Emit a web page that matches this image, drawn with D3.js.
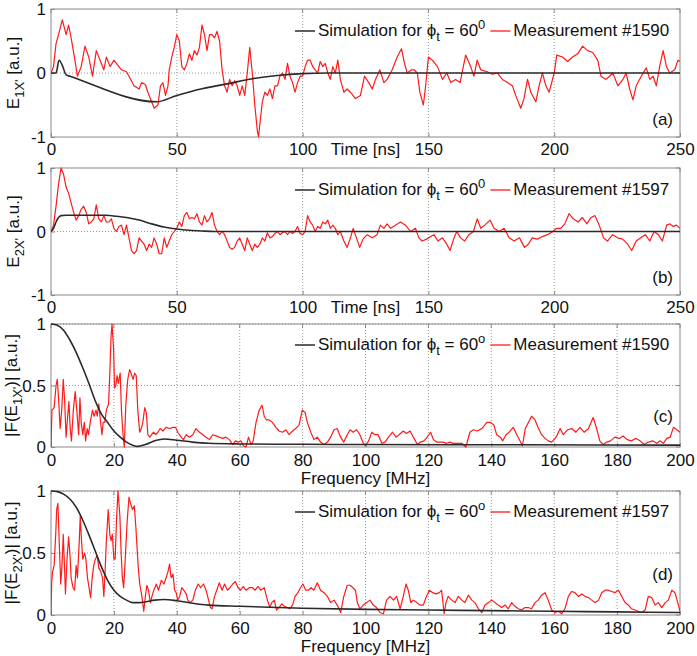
<!DOCTYPE html>
<html><head><meta charset="utf-8">
<script src="https://cdn.jsdelivr.net/npm/d3@7"></script>
<style>html,body{margin:0;padding:0;background:#fff;} svg{display:block;}</style>
</head><body>
<script>
const timeTicks = [0,50,100,150,200,250];
const freqTicks = [0,20,40,60,80,100,120,140,160,180,200];
const ampTicks = [-1,0,1];
const specTicks = [0,0.5,1];

const simA = [[0,0],[2,0],[3.2,0.2],[4.5,0.12],[6,-0.03],[7.5,-0.05],[42,-0.45],[50,-0.35],[60,-0.245],[70,-0.17],[80,-0.09],[90,-0.04],[100,-0.01],[110,0],[250,0]];
const measA = [[0,0],[1,0.1],[2,0.46],[3,0.6],[4.5,0.83],[6,0.6],[7,0.75],[8,0.55],[9.5,0.2],[10.5,-0.05],[12,0.1],[13.5,0.42],[15,0.25],[16.5,-0.05],[18,0.35],[19.5,0.2],[21,0.05],[22,0.25],[23.5,0.1],[25,0.2],[26,0.15],[27,0.1],[28,0.05],[30,0.02],[31,-0.05],[33,-0.2],[35,-0.25],[36,-0.15],[37.5,-0.18],[38.5,-0.3],[40,-0.45],[41,-0.55],[42.5,-0.5],[43.5,-0.2],[44.5,-0.15],[45.5,-0.35],[46.5,-0.2],[47,0.05],[48,0.25],[49,0.4],[50,0.6],[51,0.5],[52,0.1],[53,0.05],[54,0.15],[55,0.3],[56,0.2],[57,0.35],[58,0.28],[59,0.4],[60,0.75],[61,0.6],[62,0.35],[63,0.6],[64,0.6],[65,0.55],[66,0.65],[67,0.5],[68,0.05],[69,-0.2],[70,-0.3],[71,-0.1],[72,-0.2],[73,-0.12],[74,-0.2],[75,-0.35],[76,-0.2],[77,-0.35],[78,0],[79,0.4],[80,0],[81,-0.5],[82,-0.9],[82.5,-1],[83,-0.8],[84,-0.45],[85,-0.3],[86,-0.35],[87,-0.25],[88,-0.4],[89,-0.2],[90,-0.2],[91,-0.05],[92,0],[93,-0.1],[94,0.15],[95,-0.05],[96,-0.15],[97,-0.3],[98,-0.15],[99,-0.05],[100,-0.05],[101,0.1],[102,0.2],[103,0.2],[104,0.1],[105,0.05],[106,0],[107,0.18],[108,0.1],[109,0.15],[110,0],[111,-0.1],[112,0.1],[113,0],[114,0.2],[115,-0.1],[116.4,-0.3],[117.7,-0.25],[119,-0.3],[121,-0.4],[123,-0.35],[124.6,-0.05],[126.3,-0.15],[127.7,-0.25],[129,-0.1],[130.7,0.05],[132.3,-0.15],[133.6,-0.1],[135.6,0.05],[137.6,0.25],[139.3,0.38],[140.5,0.15],[141.6,0],[143.3,0.05],[144.3,0.05],[145.6,0],[146.6,-0.3],[148,-0.5],[148.9,-0.2],[150,0.25],[151.6,0.2],[153.6,0.1],[155.6,-0.1],[157.3,0],[158.9,-0.15],[160.8,-0.1],[162.6,-0.15],[164.8,0.28],[166.8,0.1],[168.1,-0.05],[169.4,0.2],[170.8,0.05],[173.4,0.02],[175.4,-0.02],[177.4,0],[179.4,-0.1],[181.4,-0.15],[183.4,-0.2],[184.7,-0.35],[186.7,-0.55],[188,-0.4],[189.4,-0.1],[190.7,-0.3],[192.7,-0.45],[194,-0.2],[195.3,0],[196.7,-0.2],[198,-0.3],[200,0],[201,0.28],[203.3,0.25],[205.3,0.18],[207.3,0.25],[209.3,0.3],[211.3,0.42],[213.3,0.35],[215.3,0.32],[217.3,0.2],[218.6,-0.05],[220.6,-0.1],[222,-0.05],[223.3,0],[225.3,-0.2],[227.3,-0.1],[228.6,0],[230,-0.25],[231.3,-0.42],[232.6,-0.2],[234.6,-0.05],[236.6,0.08],[238,-0.1],[239.3,-0.05],[240.6,-0.2],[241.9,0.1],[243.3,0.35],[244.6,0.1],[245.9,0],[247.9,0.05],[249.2,0.2],[250,0.18]];

const simB = [[0,0],[1,0.05],[2,0.15],[3,0.22],[4,0.25],[6,0.255],[22,0.255],[26,0.24],[30,0.22],[35,0.18],[40,0.12],[45,0.07],[50,0.04],[55,0.02],[60,0.008],[65,0],[250,0]];
const measB = [[0,0],[1,0.1],[2,0.4],[3,0.75],[4,1],[5,0.9],[6,0.7],[7,0.6],[8,0.45],[9,0.3],[10,0.18],[11,0.25],[12,0.35],[13,0.4],[14,0.3],[15,0.12],[16,0.15],[17,0.2],[18,0.42],[19,0.2],[20,0.15],[21,0.25],[22,0.15],[23,0.15],[24,0.2],[25,0.05],[26,0],[27,0.08],[28,0.1],[29,-0.05],[30,0.1],[31,-0.1],[32,-0.3],[33,-0.35],[34,-0.3],[35,-0.1],[36,-0.15],[37,-0.2],[38,-0.3],[39,-0.2],[40,-0.25],[41,-0.1],[42,-0.2],[43,-0.35],[44,-0.35],[45,-0.1],[46,-0.25],[47,-0.15],[48,-0.05],[49,0],[50,0.05],[51,0.15],[52,0.08],[53,0.25],[54,0.3],[55,0.2],[56,0.22],[57,0.2],[58,0.28],[59,0.15],[60,0.1],[61,0.25],[62,0.15],[63,0.2],[64,0.3],[65,0.1],[66,0],[67,-0.05],[68,0],[69,-0.05],[70,-0.15],[71,-0.25],[72,-0.28],[73,-0.25],[74,-0.15],[75,-0.1],[76,-0.2],[77,-0.3],[78,-0.1],[79,-0.2],[80,-0.3],[81,-0.2],[82,-0.25],[83,-0.2],[84,-0.1],[85,-0.15],[86,-0.02],[87,-0.1],[88,-0.08],[89,-0.03],[90,0],[91,-0.05],[92,-0.02],[93,0],[94,-0.05],[95,0],[96,-0.03],[97,0],[98,0.08],[99,-0.03],[100,-0.05],[101,0],[102,0.25],[103,0.15],[104,0.1],[105,0],[106,0.08],[107,0.05],[108,0.15],[109,0.12],[110,0.18],[111,0.05],[112,0.1],[113,0.05],[114,-0.05],[115,0],[116.4,-0.15],[117.7,-0.25],[119,-0.1],[120.1,0.05],[121.4,-0.1],[122.7,-0.25],[124,-0.12],[125.7,-0.05],[127.7,-0.1],[129.6,-0.05],[130.9,0.1],[132.3,0.05],[133.6,0.12],[135,0.05],[136.9,0.1],[138.9,0.15],[140.9,0.1],[142.9,0],[144.9,0.05],[146.2,-0.1],[147.5,-0.15],[149.3,-0.12],[150.9,-0.08],[152.2,-0.05],[153.8,-0.15],[155.6,-0.1],[157.3,-0.2],[158.6,-0.3],[160.2,-0.1],[161.3,0],[162.8,-0.1],[164.4,-0.15],[166.1,-0.05],[167.9,0],[169.4,0.2],[170.8,0.05],[172.4,0.1],[174.5,0.18],[176.1,0.05],[178.1,0],[180.1,0.05],[182.1,-0.1],[184.1,-0.15],[186.2,-0.1],[188.2,-0.25],[189.7,-0.2],[191.3,-0.1],[193.3,-0.12],[195.3,-0.08],[197.3,-0.05],[199.5,0],[201,0.05],[202.6,0.05],[204.2,0.12],[205.9,0.28],[207.6,0.2],[209.5,0.15],[211.2,0.22],[213,0.12],[214.6,0.22],[216.2,0.25],[217.9,0.1],[219.6,-0.1],[221.2,-0.15],[223.2,-0.05],[225.2,-0.1],[227.2,-0.12],[229.2,-0.2],[230.8,-0.3],[232.6,-0.15],[234.4,-0.1],[236.2,-0.05],[238,-0.15],[239.7,0],[241.4,-0.05],[243,-0.15],[244.7,0.1],[246,0.12],[247.3,0.08],[248.6,0.1],[250,0.05]];

const simC = [[0,1],[2,0.99],[4,0.95],[6,0.87],[8,0.77],[10,0.65],[12,0.52],[14,0.38],[16,0.27],[18,0.2],[20,0.13],[22,0.08],[24,0.04],[26,0.015],[27.5,0.005],[30,0.02],[33,0.05],[36,0.065],[40,0.055],[45,0.04],[50,0.03],[60,0.025],[80,0.022],[100,0.02],[150,0.018],[200,0.015]];
const measC = [[0,0],[0.3,0.3],[1,0.32],[1.6,0.5],[2,0.55],[2.4,0.4],[2.9,0.15],[3.4,0.3],[3.9,0.55],[4.3,0.4],[4.8,0.08],[5.3,0.25],[5.7,0.37],[6.1,0.15],[6.5,0.05],[7.1,0.3],[7.7,0.45],[8.2,0.3],[8.8,0.1],[9.2,0.4],[9.6,0.2],[10.1,0.1],[10.6,0.2],[11,0.05],[11.5,0.15],[11.9,0.1],[12.6,0.22],[13.2,0.3],[13.7,0.25],[14.3,0.3],[14.7,0.25],[15.2,0.35],[15.7,0.22],[16.2,0.1],[16.6,0.2],[17.1,0.2],[17.6,0.3],[18.3,0.35],[18.7,0.6],[19.1,0.9],[19.4,1],[19.9,0.8],[20.2,0.48],[20.6,0.5],[21,0.58],[21.4,0.52],[22,0.6],[22.4,0.3],[22.9,0.1],[23.3,0],[23.8,0.35],[24.4,0.55],[25,0.63],[25.7,0.58],[26.1,0.55],[26.6,0.6],[27.1,0.58],[27.6,0.3],[28.2,0.12],[28.7,0.15],[29.2,0.2],[29.8,0.32],[30.3,0.28],[30.8,0.1],[31.4,0.08],[32,0.1],[32.6,0.12],[33.3,0.1],[34,0.12],[34.7,0.15],[35.6,0.13],[36.6,0.16],[37.7,0.15],[38.8,0.16],[39.6,0.16],[40.3,0.12],[41.4,0.08],[42.1,0.06],[43,0.1],[44,0.08],[45.1,0.1],[46.1,0.15],[47.2,0.12],[48.3,0.1],[49.3,0.08],[50.4,0.06],[51.4,0.1],[52.5,0.09],[53.5,0.08],[54.6,0.07],[55.6,0.08],[56.7,0.06],[57.8,0.02],[58.6,0.05],[59.5,0.04],[60.4,0.05],[61.2,0.01],[62,0],[62.8,0.08],[63.6,0.02],[64.3,0.05],[65.2,0.2],[66.2,0.3],[67.1,0.34],[67.8,0.25],[68.5,0.22],[69.4,0.22],[70.4,0.2],[71.5,0.16],[72.5,0.13],[73.6,0.12],[74.7,0.14],[75.7,0.1],[76.8,0.13],[77.8,0.15],[78.9,0.18],[79.9,0.3],[80.8,0.28],[81.5,0.2],[82.6,0.12],[83.6,0.06],[84.7,0.08],[85.7,0.04],[86.8,0.02],[87.9,0.04],[88.9,0.08],[90,0.14],[91,0.15],[92.1,0.08],[93.1,0.04],[94.2,0.1],[95.1,0.14],[96.1,0.12],[97.2,0.14],[98.2,0.1],[99.3,0.03],[100,0.01],[101,0.05],[102,0.12],[103,0.1],[104,0.1],[105.2,0.03],[106.2,0.04],[107.3,0.08],[108.6,0.12],[109.7,0.08],[110.7,0.1],[112,0.13],[113,0.11],[114.2,0.13],[115.2,0.08],[116.5,0.02],[117.5,0.04],[118.6,0.05],[119.6,0.08],[120.7,0.12],[121.6,0.06],[122.6,0.04],[123.7,0.04],[124.7,0.04],[125.8,0.03],[126.8,0.04],[127.9,0.03],[129,0.03],[130.6,0.03],[131.9,0],[133.2,0.12],[134.3,0.14],[135.6,0.13],[137,0.15],[138.6,0.2],[139.7,0.2],[140.8,0.18],[141.7,0.1],[142.9,0.08],[143.6,0.05],[144.7,0.1],[145.7,0.12],[147,0.16],[148.1,0.1],[149.1,0.05],[149.9,0.01],[150.8,0.15],[151.8,0.2],[152.8,0.25],[153.9,0.22],[155,0.15],[156,0.1],[157.1,0.07],[158.1,0.05],[159.2,0.04],[160.6,0.08],[161.9,0.15],[162.9,0.1],[164.2,0.14],[165.6,0.15],[166.9,0.12],[168.2,0.16],[169.5,0.12],[170.9,0.15],[172.4,0.24],[173.5,0.15],[174.5,0.05],[175.6,0.02],[176.7,0.04],[177.9,0.05],[179.3,0.08],[180.7,0.07],[181.9,0.09],[183.2,0.06],[184.6,0.05],[186,0.07],[187.3,0.05],[188.6,0.02],[190,0.04],[191.3,0.05],[192.6,0.03],[193.7,0.05],[194.7,0.03],[195.8,0.07],[196.9,0.08],[197.9,0.16],[199,0.14],[200,0.12]];

const simD = [[0,1],[2,0.995],[4,0.975],[6,0.935],[8,0.87],[10,0.77],[12,0.65],[14,0.52],[16,0.39],[18,0.28],[20,0.2],[22,0.15],[24,0.12],[26,0.1],[28,0.1],[30,0.105],[33,0.12],[36,0.125],[40,0.115],[45,0.095],[50,0.08],[60,0.07],[80,0.055],[100,0.045],[120,0.04],[140,0.035],[160,0.03],[180,0.025],[200,0.02]];
const measD = [[0,0],[0.2,0.25],[0.5,0.35],[1,0.4],[1.5,0.65],[1.8,0.85],[2.2,0.9],[2.6,0.6],[3.1,0.25],[3.5,0.4],[3.9,0.65],[4.2,0.45],[4.6,0.17],[5.1,0.45],[5.6,0.63],[6,0.5],[6.4,0.3],[7,0.22],[7.5,0.2],[8,0.4],[8.4,0.3],[9,0.6],[9.3,0.8],[9.7,0.6],[10.1,0.45],[10.7,0.5],[11.1,0.45],[11.6,0.3],[12.1,0.22],[12.6,0.14],[13.1,0.3],[13.6,0.4],[14.1,0.45],[14.7,0.48],[15.2,0.38],[15.8,0.35],[16.4,0.3],[16.8,0.15],[17.2,0.35],[17.6,0.6],[18.2,0.85],[18.7,0.65],[19.1,0.6],[19.5,0.65],[20,0.45],[20.4,0.45],[20.8,0.75],[21.3,1],[21.9,0.8],[22.3,0.5],[22.7,0.3],[23.1,0.22],[23.5,0.4],[24.2,0.75],[24.8,0.95],[25.3,0.9],[25.9,0.85],[26.5,0.88],[27,0.7],[27.7,0.4],[28.2,0.25],[28.9,0.15],[29.5,0.03],[30,0.15],[30.5,0.24],[31,0.2],[31.6,0.1],[32.1,0.15],[32.7,0.2],[33.5,0.25],[34.2,0.2],[35.1,0.28],[35.9,0.25],[36.6,0.3],[37.2,0.35],[37.7,0.41],[38.2,0.3],[38.8,0.33],[39.3,0.2],[39.8,0.18],[40.3,0.12],[40.9,0.15],[41.6,0.22],[42.2,0.2],[43,0.17],[43.5,0.12],[44.2,0.1],[45.1,0.12],[45.9,0.2],[46.8,0.25],[47.6,0.22],[48.5,0.25],[49.3,0.2],[50.1,0.12],[50.7,0.06],[51.2,0.05],[52,0.15],[52.7,0.2],[53.5,0.26],[54.4,0.2],[55.2,0.25],[56.1,0.2],[56.9,0.22],[57.8,0.25],[58.6,0.27],[59.5,0.22],[60.3,0.2],[61.1,0.23],[62,0.2],[63,0.22],[64.1,0.22],[64.9,0.2],[65.8,0.23],[66.7,0.2],[67.8,0.22],[68.8,0.12],[69.6,0.06],[70.2,0.1],[71,0.12],[71.7,0.04],[72.5,0.06],[73.4,0.09],[74.2,0.07],[75.1,0.06],[75.9,0.05],[76.8,0.08],[77.6,0.15],[78.5,0.18],[79.3,0.22],[80.1,0.25],[81,0.2],[81.8,0.2],[82.7,0.22],[83.6,0.2],[84.7,0.26],[85.7,0.2],[86.8,0.18],[87.9,0.15],[88.9,0.1],[90,0.12],[91,0.08],[92.1,0.02],[93.1,0.15],[94.2,0.24],[95.1,0.24],[96,0.22],[96.8,0.2],[97.4,0.1],[98.2,0.05],[99.3,0.08],[100.4,0.1],[101.4,0.12],[102.5,0.08],[103.5,0.06],[104.6,0.02],[105.7,0.01],[106.7,0.12],[107.8,0.15],[108.9,0.12],[109.9,0.15],[111,0.05],[112,0.15],[112.9,0.25],[113.6,0.2],[114.4,0.1],[115.2,0.12],[116.3,0.1],[117.3,0.08],[118.4,0.08],[119.2,0.14],[120.3,0.2],[121.4,0.18],[122.4,0.17],[123.5,0.18],[124.2,0.2],[125,0.01],[125.6,0.1],[126.3,0.15],[127.4,0.12],[128.5,0.1],[129.5,0.15],[130.6,0.12],[131.6,0.1],[132.7,0.16],[133.8,0.12],[134.8,0.1],[135.9,0.05],[137,0.02],[138,0.08],[139.1,0.1],[140.1,0.12],[141.2,0.1],[142.2,0.08],[143.3,0.06],[144.4,0.08],[145.4,0.05],[146.5,0.1],[147.5,0.07],[148.6,0.05],[149.6,0.04],[150.7,0.06],[151.7,0.06],[152.8,0.05],[153.9,0.1],[154.9,0.12],[156,0.16],[157.1,0.18],[158.1,0.12],[159.2,0.04],[160.3,0.02],[161.3,0.03],[162.4,0.01],[163.4,0.05],[164.5,0.15],[165.6,0.19],[166.6,0.18],[167.7,0.15],[168.8,0.17],[169.8,0.15],[170.9,0.14],[171.9,0.12],[173,0.1],[174.1,0.12],[175.1,0.18],[176.2,0.2],[177.2,0.2],[178.3,0.19],[179.3,0.18],[180.4,0.2],[181.5,0.15],[182.5,0.1],[183.6,0.08],[184.6,0.05],[185.7,0.04],[186.7,0.03],[187.8,0.02],[188.9,0.04],[189.9,0.15],[191,0.14],[192.1,0.08],[193.1,0.1],[194.2,0.06],[195.3,0.1],[196.3,0.12],[197.4,0.2],[198.4,0.18],[199.5,0.08],[200,0.03]];

const panels = [
  {top:9, bottom:137, xDom:[0,250], yDom:[-1,1], xT:timeTicks, yT:ampTicks, yGrid:[0], sim:simA, meas:measA, meas_label:"Measurement #1590", deg:"0", tag:"(a)", kind:"time", ylab:["E","1X'"," [a.u.]"], ylabX:19, legY:31, tagY:125},
  {top:168, bottom:295, xDom:[0,250], yDom:[-1,1], xT:timeTicks, yT:ampTicks, yGrid:[0], sim:simB, meas:measB, meas_label:"Measurement #1597", deg:"0", tag:"(b)", kind:"time", ylab:["E","2X'"," [a.u.]"], ylabX:19, legY:190, tagY:283},
  {top:324, bottom:447, xDom:[0,200], yDom:[0,1], xT:freqTicks, yT:specTicks, yGrid:[0.5,1], sim:simC, meas:measC, meas_label:"Measurement #1590", deg:"o", tag:"(c)", kind:"freq", ylab:["|F(E","1X'",")| [a.u.]"], ylabX:17, legY:345, tagY:422},
  {top:491, bottom:615, xDom:[0,200], yDom:[0,1], xT:freqTicks, yT:specTicks, yGrid:[0.5,1], sim:simD, meas:measD, meas_label:"Measurement #1597", deg:"o", tag:"(d)", kind:"freq", ylab:["|F(E","2X'",")| [a.u.]"], ylabX:17, legY:512, tagY:580}
];

const W = 697, H = 656, L = 51, R = 680;
const FONT = "'Liberation Sans', Arial, Helvetica, sans-serif";
const svg = d3.select("body").append("svg").attr("width", W).attr("height", H)
  .style("font-family", FONT);
svg.append("rect").attr("width", W).attr("height", H).attr("fill", "#fff");

const boxColor = "#8a8a8a", gridColor = "#9a9a9a";

panels.forEach(p => {
  const x = d3.scaleLinear().domain(p.xDom).range([L, R]);
  const y = d3.scaleLinear().domain(p.yDom).range([p.bottom, p.top]);
  const g = svg.append("g");

  // grid
  const inner = p.xT.slice(1, -1);
  g.selectAll(".vg").data(inner).join("line")
    .attr("x1", d => x(d)).attr("x2", d => x(d)).attr("y1", p.top).attr("y2", p.bottom)
    .attr("stroke", gridColor).attr("stroke-width", 1).attr("stroke-dasharray", "1,2");
  g.selectAll(".hg").data(p.yGrid).join("line")
    .attr("x1", L).attr("x2", R).attr("y1", d => y(d)).attr("y2", d => y(d))
    .attr("stroke", gridColor).attr("stroke-width", 1).attr("stroke-dasharray", "1,2");

  // axes via d3
  const xAxis = d3.axisBottom(x).tickValues(p.xT).tickSize(-4).tickPadding(6).tickFormat(d3.format("d"));
  const ax = g.append("g").attr("transform", `translate(0,${p.bottom})`).call(xAxis);
  const yAxis = d3.axisLeft(y).tickValues(p.yT).tickSize(-4).tickPadding(5).tickFormat(d => d === 0.5 ? "0.5" : String(d));
  const ay = g.append("g").attr("transform", `translate(${L},0)`).call(yAxis);
  [ax, ay].forEach(a => {
    a.select(".domain").remove();
    a.selectAll(".tick line").attr("stroke", boxColor);
    a.selectAll("text").attr("fill", "#111").style("font-size", "17px").style("font-family", FONT);
  });
  ax.selectAll("text").attr("dy", null).attr("y", p.kind === "time" ? 18 : 19).attr("dominant-baseline", "auto");
  ay.selectAll("text").attr("dy", "0.35em");

  // top/right ticks
  g.selectAll(".tt").data(p.xT).join("line")
    .attr("x1", d => x(d)).attr("x2", d => x(d)).attr("y1", p.top).attr("y2", p.top + 4).attr("stroke", boxColor);
  g.selectAll(".rt").data(p.yT).join("line")
    .attr("x1", R).attr("x2", R - 4).attr("y1", d => y(d)).attr("y2", d => y(d)).attr("stroke", boxColor);

  // box
  g.append("rect").attr("x", L).attr("y", p.top).attr("width", R - L).attr("height", p.bottom - p.top)
    .attr("fill", "none").attr("stroke", boxColor).attr("stroke-width", 1);

  // clip
  const cid = "clip" + p.tag.replace(/[()]/g, "");
  svg.append("clipPath").attr("id", cid).append("rect")
    .attr("x", L).attr("y", p.top - 1).attr("width", R - L).attr("height", p.bottom - p.top + 2);

  const lineM = d3.line().x(d => x(d[0])).y(d => y(d[1]));
  const lineS = d3.line().x(d => x(d[0])).y(d => y(d[1])).curve(d3.curveMonotoneX);
  g.append("path").datum(p.meas).attr("d", lineM).attr("fill", "none")
    .attr("stroke", "#ff1a1a").attr("stroke-width", 1.2).attr("stroke-linejoin", "round").attr("clip-path", `url(#${cid})`);
  g.append("path").datum(p.sim).attr("d", lineS).attr("fill", "none")
    .attr("stroke", "#2a2a2a").attr("stroke-width", 1.6).attr("clip-path", `url(#${cid})`);

  // x axis label
  if (p.kind === "time") {
    g.append("text").attr("x", x(125)).attr("y", p.bottom + 18).attr("text-anchor", "middle")
      .style("font-size", "17px").attr("fill", "#111").text("Time [ns]");
  } else {
    g.append("text").attr("x", x(100)).attr("y", p.bottom + 37).attr("text-anchor", "middle")
      .style("font-size", "17px").attr("fill", "#111").text("Frequency [MHz]");
  }

  // y label
  const yc = (p.top + p.bottom) / 2;
  const yl = g.append("text").attr("transform", `translate(${p.ylabX},${yc}) rotate(-90)`)
    .attr("text-anchor", "middle").style("font-size", "17px").attr("fill", "#111");
  yl.append("tspan").text(p.ylab[0]);
  yl.append("tspan").attr("dy", 5).style("font-size", "13px").text(p.ylab[1]);
  yl.append("tspan").attr("dy", -5).text(p.ylab[2]);

  // legend
  const lg = g.append("g");
  lg.append("line").attr("x1", 295).attr("x2", 315).attr("y1", p.legY).attr("y2", p.legY)
    .attr("stroke", "#2a2a2a").attr("stroke-width", 1.5);
  const t1 = lg.append("text").attr("x", 318).attr("y", p.legY + 5).style("font-size", "17px").attr("fill", "#111");
  t1.append("tspan").text("Simulation for \u03D5");
  t1.append("tspan").attr("dy", 5).style("font-size", "13px").text("t");
  t1.append("tspan").attr("dy", -5).text(" = 60");
  t1.append("tspan").attr("dy", -7).style("font-size", "13px").text(p.deg);
  const bb = t1.node().getBBox();
  const rx = bb.x + bb.width + 5;
  lg.append("line").attr("x1", rx).attr("x2", rx + 20).attr("y1", p.legY).attr("y2", p.legY)
    .attr("stroke", "#ff1a1a").attr("stroke-width", 1.3);
  lg.append("text").attr("x", rx + 23).attr("y", p.legY + 5).style("font-size", "17px").attr("fill", "#111")
    .text(p.meas_label);

  // tag
  g.append("text").attr("x", 673).attr("y", p.tagY).attr("text-anchor", "end")
    .style("font-size", "17px").attr("fill", "#111").text(p.tag);
});
</script>
</body></html>
